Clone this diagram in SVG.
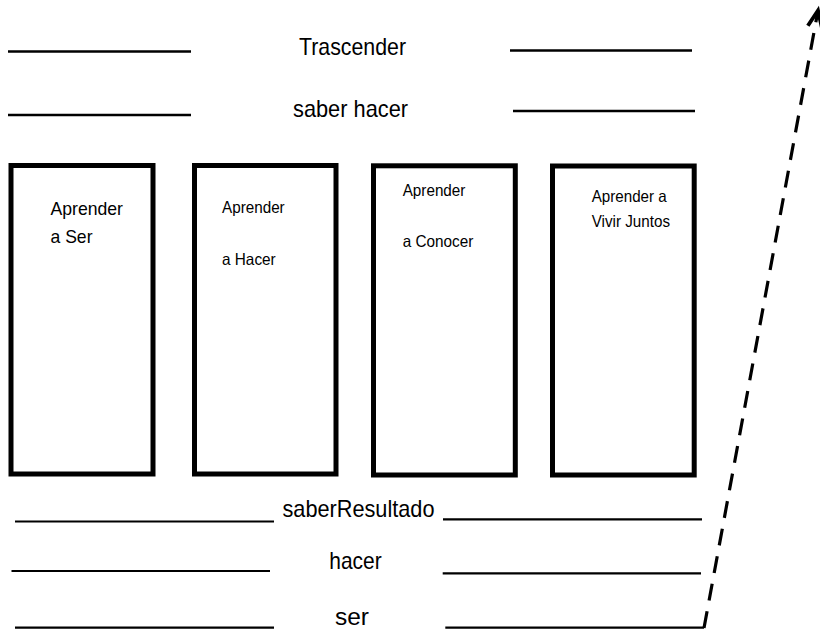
<svg xmlns="http://www.w3.org/2000/svg" width="820" height="632" viewBox="0 0 820 632">
<style>
.bg{fill:#ffffff}
.box{fill:#ffffff;stroke:#000000;stroke-width:5}
.rule{stroke:#000000;stroke-width:2.6;fill:none}
.rule2{stroke:#000000;stroke-width:2.2;fill:none}
.lbl{font-family:"Liberation Sans",Arial,sans-serif;font-size:24px;fill:#000000}
.t1{font-family:"Liberation Sans",Arial,sans-serif;font-size:19px;fill:#000000}
.t2{font-family:"Liberation Sans",Arial,sans-serif;font-size:16.5px;fill:#000000}
.dash{stroke:#000000;stroke-width:3.2;fill:none;stroke-dasharray:17 11}
</style>
<defs>
<marker id="chev" markerUnits="userSpaceOnUse" orient="auto" refX="0" refY="0" markerWidth="30" markerHeight="30" viewBox="-20 -10 25 20" overflow="visible">
<path d="M -14 -6 L 0 0 L -14 6" fill="none" stroke="#000000" stroke-width="3.2"/>
</marker>
</defs>
<rect class="bg" x="0" y="0" width="820" height="632"/>

<g id="level-trascender">
<line class="rule" x1="8" y1="51.5" x2="191" y2="51.5"/>
<text class="lbl" x="299" y="55" textLength="107" lengthAdjust="spacingAndGlyphs">Trascender</text>
<line class="rule" x1="510" y1="50.5" x2="692" y2="50.5"/>
</g>

<g id="level-saber-hacer">
<line class="rule" x1="8" y1="115" x2="191" y2="115"/>
<text class="lbl" x="293" y="117" textLength="115" lengthAdjust="spacingAndGlyphs">saber hacer</text>
<line class="rule" x1="513" y1="111" x2="695" y2="111"/>
</g>

<g id="box-ser">
<rect class="box" x="11" y="165.5" width="142" height="308.5"/>
<text class="t1" x="50.5" y="215" textLength="72.5" lengthAdjust="spacingAndGlyphs">Aprender</text>
<text class="t1" x="50.5" y="243" textLength="42" lengthAdjust="spacingAndGlyphs">a Ser</text>
</g>

<g id="box-hacer">
<rect class="box" x="194.5" y="165.5" width="141.5" height="308.5"/>
<text class="t2" x="222" y="212.5" textLength="62.7" lengthAdjust="spacingAndGlyphs">Aprender</text>
<text class="t2" x="222" y="265" textLength="53.7" lengthAdjust="spacingAndGlyphs">a Hacer</text>
</g>

<g id="box-conocer">
<rect class="box" x="373.5" y="165.8" width="141.8" height="309.2"/>
<text class="t2" x="402.7" y="196" textLength="62.7" lengthAdjust="spacingAndGlyphs">Aprender</text>
<text class="t2" x="402.7" y="247.3" textLength="70.7" lengthAdjust="spacingAndGlyphs">a Conocer</text>
</g>

<g id="box-vivir">
<rect class="box" x="552.5" y="166" width="141.7" height="309"/>
<text class="t2" x="591.7" y="202.3" textLength="75" lengthAdjust="spacingAndGlyphs">Aprender a</text>
<text class="t2" x="591.7" y="227.3" textLength="78.3" lengthAdjust="spacingAndGlyphs">Vivir Juntos</text>
</g>

<g id="level-saber-resultado">
<line class="rule2" x1="15" y1="521.5" x2="274" y2="521.5"/>
<text class="lbl" x="282.5" y="516.7" textLength="152" lengthAdjust="spacingAndGlyphs">saberResultado</text>
<line class="rule2" x1="443" y1="519.3" x2="702" y2="519.3"/>
</g>

<g id="level-hacer">
<line class="rule2" x1="11.5" y1="571" x2="270" y2="571"/>
<text class="lbl" x="329.3" y="569.3" textLength="52.4" lengthAdjust="spacingAndGlyphs">hacer</text>
<line class="rule2" x1="442.7" y1="573.3" x2="701" y2="573.3"/>
</g>

<g id="level-ser">
<line class="rule2" x1="15" y1="627.7" x2="274" y2="627.7"/>
<text class="lbl" x="335" y="625" textLength="34" lengthAdjust="spacingAndGlyphs">ser</text>
<line class="rule2" x1="445.3" y1="627.7" x2="704" y2="627.7"/>
</g>

<g id="connectors">
<line class="dash" x1="704" y1="628" x2="818" y2="10.5" marker-end="url(#chev)"/>
</g>
</svg>
